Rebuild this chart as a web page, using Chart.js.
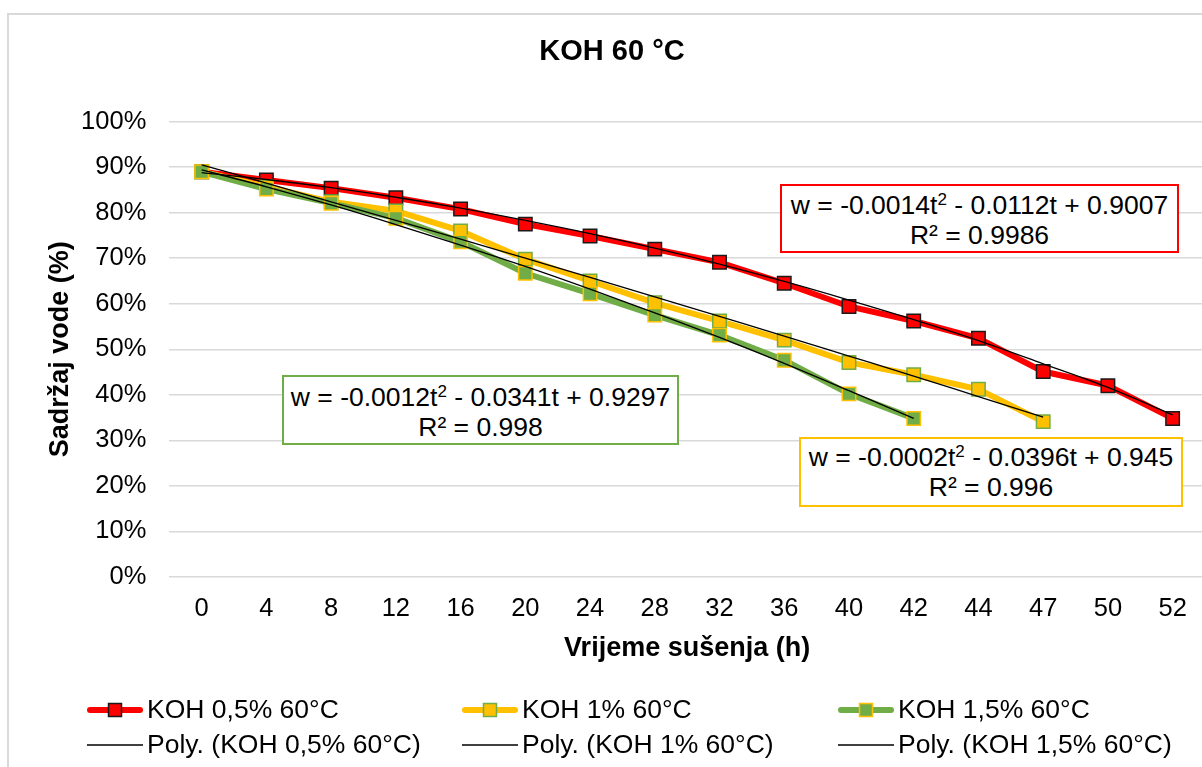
<!DOCTYPE html>
<html>
<head>
<meta charset="utf-8">
<title>KOH 60 °C</title>
<script src="https://cdn.jsdelivr.net/npm/chart.js@4.4.0/dist/chart.umd.min.js"></script>
<style>
  body { margin: 0; width: 1202px; height: 767px; overflow: hidden; background: #fff; font-family: "Liberation Sans", Arial, sans-serif; color: #000; }
  #frame { position: absolute; left: 7px; top: 13px; width: 1240px; height: 800px; border: 2px solid #d9d9d9; box-sizing: border-box; }
  #chart { position: absolute; left: 0; top: 0; }
  .title { position: absolute; left: 0; width: 1224px; top: 34px; text-align: center; font-weight: bold; font-size: 29px; }
  .eq { position: absolute; background: #fff; text-align: center; font-size: 26.5px; line-height: 30px; box-sizing: border-box; white-space: nowrap; }
  .eq sup { font-size: 17px; vertical-align: 9px; line-height: 0; }
</style>
</head>
<body>
<div id="frame"></div>
<canvas id="chart" width="1220" height="767"></canvas>
<div class="title">KOH 60 °C</div>
<div class="eq" style="left:780px; top:184px; width:399px; height:69px; border:2px solid #ff0000; padding-top:4px;">w = -0.0014t<sup>2</sup> - 0.0112t + 0.9007<br>R² = 0.9986</div>
<div class="eq" style="left:282px; top:375px; width:397px; height:70px; border:2px solid #70ad47; padding-top:5px;">w = -0.0012t<sup>2</sup> - 0.0341t + 0.9297<br>R² = 0.998</div>
<div class="eq" style="left:799px; top:437px; width:384px; height:70px; border:2px solid #ffc000; padding-top:3px;">w = -0.0002t<sup>2</sup> - 0.0396t + 0.945<br>R² = 0.996</div>
<script>
// Vrijeme sušenja (h)
const categories = ['0', '4', '8', '12', '16', '20', '24', '28', '32', '36', '40', '42', '44', '47', '50', '52'];

// Sadržaj vode (%)
const koh05 = [89.0, 87.2, 85.4, 83.3, 80.8, 77.5, 74.9, 72.0, 69.1, 64.5, 59.4, 56.2, 52.4, 45.1, 42.0, 34.8];
const koh1 = [89.0, 85.7, 82.4, 80.4, 76.0, 69.8, 65.0, 60.2, 56.2, 52.0, 47.1, 44.4, 41.2, 34.1];
const koh15 = [89.0, 85.2, 82.1, 78.8, 73.6, 66.7, 62.2, 57.5, 53.1, 47.6, 40.2, 34.8];

// polynomial trendlines as they show on the picture
const poly05 = [88.8, 87.3, 85.5, 83.4, 81.0, 78.3, 75.4, 72.2, 68.7, 64.9, 60.8, 56.5, 51.9, 46.8, 41.6, 35.6];
const poly1 = [90.5, 86.5, 82.4, 78.3, 74.2, 70.0, 65.8, 61.5, 57.2, 52.9, 48.5, 44.1, 39.6, 35.1];
const poly15 = [89.4, 85.7, 81.7, 77.4, 72.9, 68.2, 63.2, 58.0, 52.6, 46.9, 40.9, 34.8];

const yTicks = [0, 10, 20, 30, 40, 50, 60, 70, 80, 90, 100];

const FONT = '"Liberation Sans", Arial, sans-serif';

function series(label, data, color, markerFill, markerBorder, order) {
    return {
        label: label,
        data: data,
        borderColor: color,
        backgroundColor: color,
        borderWidth: 6,
        pointStyle: 'rect',
        pointRadius: 9.5,
        pointBackgroundColor: markerFill,
        pointBorderColor: markerBorder,
        pointBorderWidth: 1.5,
        tension: 0,
        order: order,
    };
}

function trend(label, data) {
    return {
        label: label,
        data: data,
        borderColor: '#000000',
        backgroundColor: '#000000',
        borderWidth: 1.3,
        pointRadius: 0,
        cubicInterpolationMode: 'monotone',
        order: 0,
    };
}

// legend laid out in a 3 x 2 grid like the Excel one
const legendCols = [87, 462, 838];
const legendRows = [710, 745];

const gridLegend = {
    id: 'gridLegend',
    afterDraw(chart) {
        const ctx = chart.ctx;
        chart.data.datasets.forEach((ds, i) => {
            const x = legendCols[i % 3];
            const y = legendRows[Math.floor(i / 3)];
            const thick = ds.borderWidth > 2;
            ctx.save();
            ctx.strokeStyle = ds.borderColor;
            ctx.lineWidth = ds.borderWidth;
            ctx.lineCap = thick ? 'round' : 'butt';
            ctx.beginPath();
            ctx.moveTo(x + (thick ? 3 : 0), y);
            ctx.lineTo(x + (thick ? 53 : 56), y);
            ctx.stroke();
            if (ds.pointRadius) {
                ctx.fillStyle = ds.pointBackgroundColor;
                ctx.strokeStyle = ds.pointBorderColor;
                ctx.lineWidth = 1.5;
                ctx.fillRect(x + 21.5, y - 6.5, 13, 13);
                ctx.strokeRect(x + 21.5, y - 6.5, 13, 13);
            }
            ctx.fillStyle = '#000000';
            ctx.font = '26.5px ' + FONT;
            ctx.textBaseline = 'middle';
            ctx.textAlign = 'left';
            ctx.fillText(ds.label, x + 60, y + 1);
            ctx.restore();
        });
    }
};

new Chart(document.getElementById('chart').getContext('2d'), {
    type: 'line',
    data: {
        labels: categories,
        datasets: [
            series('KOH 0,5% 60°C', koh05, '#ff0000', '#ff0000', '#1a1a1a', 3),
            series('KOH 1% 60°C', koh1, '#ffc000', '#ffc000', '#70ad47', 2),
            series('KOH 1,5% 60°C', koh15, '#70ad47', '#70ad47', '#ffc000', 1),
            trend('Poly. (KOH 0,5% 60°C)', poly05),
            trend('Poly. (KOH 1% 60°C)', poly1),
            trend('Poly. (KOH 1,5% 60°C)', poly15),
        ]
    },
    options: {
        responsive: false,
        animation: false,
        devicePixelRatio: 1,
        layout: { padding: { left: 0, top: 121.7, right: 15, bottom: 0 } },
        plugins: {
            legend: { display: false },
            tooltip: { enabled: false },
            title: { display: false },
        },
        scales: {
            x: {
                offset: true,
                grid: { display: false, drawTicks: false },
                border: { display: false },
                ticks: { color: '#000', font: { family: FONT, size: 25.5 }, padding: 17, maxRotation: 0, autoSkip: false },
                title: { display: true, text: 'Vrijeme sušenja (h)', color: '#000', font: { family: FONT, size: 27, weight: 'bold' }, padding: { top: 0, bottom: 102 } },
                afterFit(scale) { scale.height = 767 - 576.8; },
            },
            y: {
                min: 0,
                max: 100,
                afterBuildTicks(scale) { scale.ticks = yTicks.map(v => ({ value: v })); },
                grid: { color: '#d9d9d9', lineWidth: 1.5, drawTicks: false },
                border: { display: false },
                ticks: { color: '#000', font: { family: FONT, size: 25.5 }, padding: 23, callback: v => v + '%' },
                title: { display: true, text: 'Sadržaj vode (%)', color: '#000', font: { family: FONT, size: 27, weight: 'bold' }, padding: { top: 44, bottom: 0 } },
                afterFit(scale) { scale.width = 169.3; },
            },
        },
    },
    plugins: [gridLegend],
});
</script>
</body>
</html>
